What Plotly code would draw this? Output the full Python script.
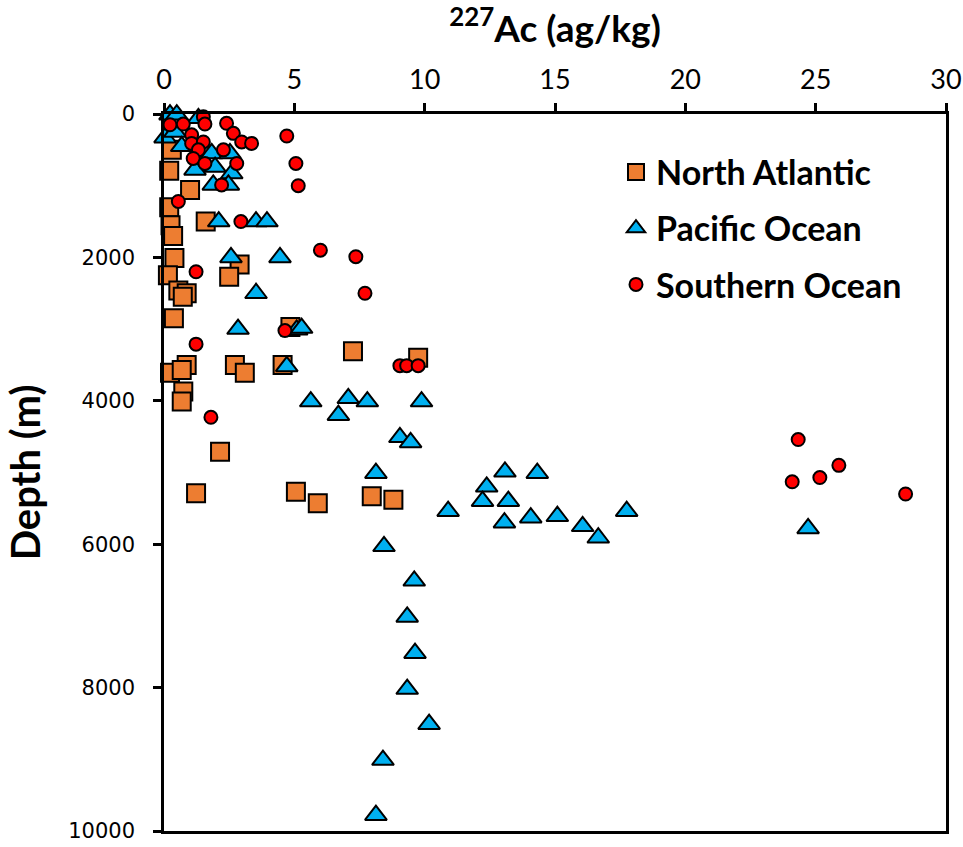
import plotly.graph_objects as go

# North Atlantic
na_x = [0.3, 0.2, 1.0, 0.2, 0.25, 0.35, 1.6, 0.4, 2.9, 2.5, 0.15, 0.55, 0.87, 0.72, 0.38,
        4.85, 7.25, 9.75, 4.55, 0.87, 0.23, 0.68, 2.72, 3.1, 0.74, 0.68, 2.15, 1.23,
        5.06, 5.9, 7.97, 8.8]
na_y = [500, 790, 1060, 1300, 1550, 1700, 1500, 2010, 2100, 2270, 2250, 2460, 2500, 2550, 2850,
        2970, 3310, 3400, 3500, 3500, 3610, 3570, 3500, 3610, 3870, 4010, 4710, 5290,
        5270, 5430, 5330, 5380]

# Pacific Ocean
pa_x = [0.23, 0.49, 1.32, 0.04, 0.42, 0.68, 1.83, 2.53, 1.19, 1.96, 2.6, 1.89, 2.47,
        2.1, 3.53, 3.95, 2.57, 4.45, 3.53, 2.84, 5.09, 5.28, 4.71, 5.63, 7.07, 7.8, 9.88,
        6.69, 9.05, 9.46, 8.13, 13.08, 14.32, 12.38, 12.22, 13.21, 10.9, 13.06, 14.07,
        15.09, 16.06, 16.66, 17.75, 24.71, 8.44, 9.6, 9.33, 9.63, 9.33, 10.17, 8.4, 8.13]
pa_y = [10, 10, 60, 330, 250, 450, 550, 550, 780, 740, 830, 990, 990,
        1500, 1500, 1500, 2000, 2000, 2500, 3000, 3010, 2985, 3520, 4010, 3965, 4010, 4010,
        4200, 4510, 4580, 5010, 4990, 5010, 5200, 5400, 5400, 5540, 5700, 5630,
        5610, 5750, 5910, 5540, 5780, 6030, 6510, 7015, 7520, 8020, 8510, 9010, 9780]

# Southern Ocean
so_x = [0.23, 0.74, 1.51, 1.57, 2.4, 2.66, 2.98, 3.36, 1.06, 1.06, 1.51, 1.32, 2.28, 1.12,
        1.57, 2.79, 2.21, 0.55, 4.71, 5.06, 5.15, 2.95, 6.0, 7.36, 7.71, 1.23, 4.64, 1.23,
        9.05, 9.31, 9.75, 1.8, 24.33, 25.89, 25.16, 24.1, 28.45]
so_y = [150, 140, 40, 140, 130, 270, 390, 410, 290, 410, 390, 500, 500, 620,
        690, 690, 990, 1220, 307, 690, 1000, 1500, 1900, 1990, 2500, 2200, 3020, 3210,
        3510, 3510, 3510, 4230, 4540, 4900, 5070, 5130, 5300]

x_ticks = [0, 5, 10, 15, 20, 25, 30]
y_ticks = [0, 2000, 4000, 6000, 8000, 10000]

fig = go.Figure()
fig.add_trace(go.Scatter(x=na_x, y=na_y, mode="markers", name="North Atlantic",
                         legendgroup="a", cliponaxis=False,
                         marker=dict(symbol="square", size=18, color="#ED7D31",
                                     line=dict(color="black", width=2))))
fig.add_trace(go.Scatter(x=pa_x, y=pa_y, mode="markers", name="Pacific Ocean",
                         legendgroup="b", cliponaxis=False,
                         marker=dict(symbol="triangle-up", size=19, color="#00B0F0",
                                     line=dict(color="black", width=2))))
fig.add_trace(go.Scatter(x=so_x, y=so_y, mode="markers", name="Southern Ocean",
                         legendgroup="c", cliponaxis=False,
                         marker=dict(symbol="circle", size=13, color="#FF0000",
                                     line=dict(color="black", width=2))))

fig.update_layout(
    width=963, height=847,
    margin=dict(l=164, r=17, t=114, b=16, autoexpand=False),
    paper_bgcolor="white", plot_bgcolor="white",
    showlegend=True,
    legend=dict(x=0.578, y=0.959, xanchor="left", yanchor="top",
                font=dict(family="Lato", size=34, color="black", weight="bold"),
                bgcolor="rgba(0,0,0,0)", traceorder="grouped", tracegroupgap=9,
                itemsizing="trace"),
    xaxis=dict(side="top", range=[0, 30], tickvals=x_ticks, ticktext=[str(v) for v in x_ticks],
               automargin=False,
               showgrid=False, zeroline=False, showline=True, linecolor="black", linewidth=2.5,
               mirror=True, ticks="outside", ticklen=8, tickwidth=2.5, tickcolor="black",
               ticklabelstandoff=3,
               tickfont=dict(family="Lato", size=27, color="black"),
               title=dict(text="<sup>227</sup>Ac (ag/kg)", standoff=10,
                          font=dict(family="Lato", size=37, color="black", weight="bold"))),
    yaxis=dict(range=[10000, 0], tickvals=y_ticks, ticktext=[str(v) for v in y_ticks],
               automargin=False,
               showgrid=False, zeroline=False, showline=True, linecolor="black", linewidth=2.5,
               mirror=True, ticks="outside", ticklen=8, tickwidth=2.5, tickcolor="black",
               ticklabelstandoff=14,
               tickfont=dict(family="DejaVu Sans", size=21, color="black"),
               title=dict(text="Depth (m)", standoff=16,
                          font=dict(family="Lato", size=40, color="black", weight="bold"))),
)

fig.write_html("out.html", config={"displayModeBar": False},
               post_script="document.body.style.margin='0';")
